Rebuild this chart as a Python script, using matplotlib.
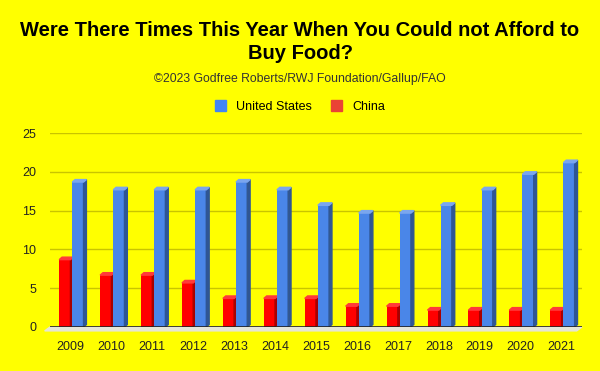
import numpy as np
import matplotlib.pyplot as plt
from matplotlib.patches import Polygon, Patch

plt.rcParams['font.family'] = ['Liberation Sans', 'DejaVu Sans']

years = ['2009', '2010', '2011', '2012', '2013', '2014', '2015',
         '2016', '2017', '2018', '2019', '2020', '2021']
us = [19, 18, 18, 18, 19, 18, 16, 15, 15, 16, 18, 20, 21.5]
china = [9, 7, 7, 6, 4, 4, 4, 3, 3, 2.5, 2.5, 2.5, 2.5]

bg = '#ffff00'
fig = plt.figure(figsize=(6, 3.71), dpi=100, facecolor=bg)
ax = fig.add_axes([0.0833, 0.1186, 0.8867, 0.5229], facecolor=bg)

x = np.arange(len(years))
w = 0.275
dx, dy = 0.07, 0.32  # fake 3d depth

# light floor under the zero line
ax.add_patch(Polygon([(0.0, 0.0), (1.0, 0.0), (0.99, -0.02), (-0.01, -0.02)], closed=True,
                     transform=ax.transAxes, color='#e6e6d8', clip_on=False, zorder=2))


def bars3d(xs, vals, front, side, top):
    for xi, v in zip(xs, vals):
        h = v - dy
        ax.bar(xi, h, w, align='edge', color=front, zorder=3)
        ax.add_patch(Polygon([(xi + w, 0), (xi + w + dx, dy), (xi + w + dx, v), (xi + w, h)],
                             closed=True, color=side, zorder=3))
        ax.add_patch(Polygon([(xi, h), (xi + dx, v), (xi + w + dx, v), (xi + w, h)],
                             closed=True, color=top, zorder=3))


bars3d(x - 0.275, china, '#ff0000', '#a80000', '#ff3a3a')
bars3d(x + 0.045, us, '#4a86e8', '#2f5694', '#7aa6ee')

ax.set_xlim(-0.5, len(years) - 0.5)
ax.set_ylim(0, 25)
ax.set_yticks([0, 5, 10, 15, 20, 25])
ax.yaxis.grid(True, color='#c9c400', lw=1, zorder=0)
ax.axhline(0, color='#222222', lw=1.2, zorder=4)
ax.set_xticks(x)
ax.set_xticklabels(years)
ax.tick_params(length=0, labelsize=9, colors='#222222')
ax.tick_params(axis='y', pad=10)
ax.tick_params(axis='x', pad=10)
for s in ax.spines.values():
    s.set_visible(False)

fig.text(0.5, 0.887, 'Were There Times This Year When You Could not Afford to\nBuy Food?',
         ha='center', va='center', fontsize=14.5, fontweight='bold', linespacing=1.3)
fig.text(0.5, 0.787, '\u00a92023 Godfree Roberts/RWJ Foundation/Gallup/FAO',
         ha='center', va='center', fontsize=8.8, color='#333333')

handles = [Patch(color='#4285f4'), Patch(color='#ea4335')]
fig.legend(handles, ['United States', 'China'], loc='center', bbox_to_anchor=(0.5, 0.713),
           ncol=2, frameon=False, fontsize=9, handlelength=0.9, handleheight=0.9,
           columnspacing=1.5, handletextpad=0.8)

fig.savefig('out.png', dpi=100, facecolor=bg)
